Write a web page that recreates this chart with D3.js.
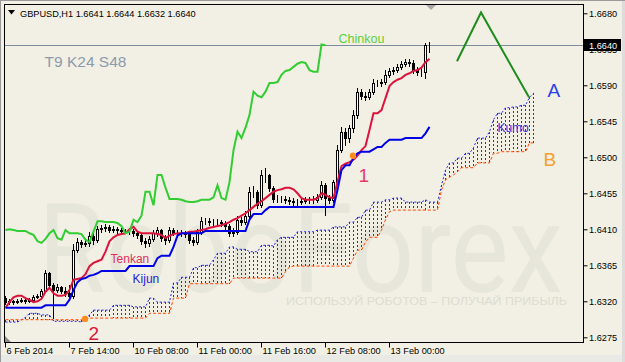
<!DOCTYPE html>
<html><head><meta charset="utf-8">
<script src="https://cdn.jsdelivr.net/npm/d3@7"></script>
<style>
html,body{margin:0;padding:0;background:#F2F0E4;}
svg{display:block;font-family:"Liberation Sans",Arial,sans-serif;}
</style></head><body>
<svg id="c" width="625" height="362"></svg>
<script>
// ---------- DATA ----------
const symbolTitle = "GBPUSD,H1  1.6641 1.6644 1.6632 1.6640";
const firstOpen = 1.6324;
const closes = [1.6319,1.6320,1.6319,1.6320,1.6322,1.6320,1.6322,1.6325,1.6327,1.6333,
 1.6355,1.6340,1.6334,1.6338,1.6333,1.6330,1.6327,1.6384,1.6394,1.6392,
 1.6393,1.6402,1.6397,1.6410,1.6412,1.6413,1.6409,1.6410,1.6409,1.6408,
 1.6408,1.6408,1.6405,1.6403,1.6395,1.6393,1.6398,1.6405,1.6409,1.6399,
 1.6397,1.6409,1.6405,1.6405,1.6405,1.6404,1.6397,1.6394,1.6407,1.6420,
 1.6420,1.6419,1.6419,1.6419,1.6418,1.6414,1.6405,1.6407,1.6422,1.6419,
 1.6427,1.6457,1.6457,1.6440,1.6478,1.6478,1.6462,1.6448,1.6448,1.6448,
 1.6447,1.6445,1.6444,1.6444,1.6445,1.6447,1.6447,1.6447,1.6450,1.6465,
 1.6449,1.6447,1.6469,1.6509,1.6532,1.6524,1.6537,1.6553,1.6582,1.6577,
 1.6575,1.6582,1.6593,1.6593,1.6594,1.6603,1.6608,1.6609,1.6613,1.6617,
 1.6619,1.6618,1.6609,1.6607,1.6607,1.6641,1.6640];
const highs = [1.6327,1.6323,1.6322,1.6323,1.6324,1.6323,1.6324,1.6328,1.6329,1.6335,
 1.6359,1.6357,1.6343,1.6342,1.6339,1.6338,1.6340,1.6392,1.6399,1.6397,
 1.6397,1.6407,1.6405,1.6414,1.6415,1.6417,1.6415,1.6414,1.6413,1.6412,
 1.6410,1.6412,1.6410,1.6408,1.6405,1.6399,1.6402,1.6409,1.6413,1.6410,
 1.6403,1.6413,1.6412,1.6409,1.6409,1.6408,1.6407,1.6400,1.6410,1.6425,
 1.6424,1.6424,1.6423,1.6423,1.6422,1.6420,1.6417,1.6412,1.6427,1.6425,
 1.6433,1.6463,1.6464,1.6459,1.6484,1.6487,1.6479,1.6464,1.6453,1.6452,
 1.6452,1.6450,1.6449,1.6448,1.6449,1.6450,1.6450,1.6452,1.6454,1.6470,
 1.6468,1.6453,1.6472,1.6515,1.6538,1.6537,1.6540,1.6559,1.6587,1.6585,
 1.6582,1.6585,1.6598,1.6597,1.6598,1.6609,1.6612,1.6613,1.6617,1.6620,
 1.6623,1.6623,1.6622,1.6613,1.6613,1.6643,1.6644];
const lows = [1.6317,1.6317,1.6317,1.6318,1.6319,1.6318,1.6319,1.6320,1.6324,1.6324,
 1.6332,1.6337,1.6299,1.6332,1.6330,1.6327,1.6323,1.6324,1.6382,1.6388,
 1.6389,1.6389,1.6392,1.6394,1.6407,1.6408,1.6407,1.6407,1.6405,1.6404,
 1.6405,1.6404,1.6402,1.6399,1.6392,1.6388,1.6389,1.6395,1.6402,1.6395,
 1.6392,1.6394,1.6403,1.6402,1.6402,1.6400,1.6393,1.6390,1.6392,1.6404,
 1.6417,1.6415,1.6415,1.6415,1.6414,1.6410,1.6402,1.6402,1.6404,1.6415,
 1.6417,1.6424,1.6450,1.6437,1.6438,1.6469,1.6458,1.6444,1.6444,1.6444,
 1.6443,1.6442,1.6440,1.6440,1.6442,1.6443,1.6443,1.6443,1.6444,1.6448,
 1.6428,1.6443,1.6444,1.6467,1.6507,1.6515,1.6519,1.6532,1.6549,1.6573,
 1.6572,1.6573,1.6579,1.6589,1.6589,1.6592,1.6600,1.6604,1.6607,1.6610,
 1.6614,1.6614,1.6605,1.6603,1.6602,1.6599,1.6632];
const tenkan = [1.6312,1.6319,1.6325,1.6327,1.6327,1.6324,1.6322,1.6319,1.6320,1.6323,
 1.6332,1.6337,1.6330,1.6327,1.6327,1.6328,1.6334,1.6347,1.6348,1.6349,
 1.6354,1.6364,1.6368,1.6370,1.6372,1.6382,1.6395,1.6400,1.6403,1.6404,
 1.6405,1.6410,1.6413,1.6407,1.6405,1.6405,1.6405,1.6405,1.6404,1.6403,
 1.6399,1.6402,1.6404,1.6405,1.6405,1.6405,1.6407,1.6407,1.6408,1.6409,
 1.6410,1.6412,1.6413,1.6414,1.6415,1.6417,1.6419,1.6422,1.6424,1.6427,
 1.6430,1.6434,1.6438,1.6442,1.6445,1.6449,1.6453,1.6457,1.6459,1.6460,
 1.6462,1.6462,1.6460,1.6455,1.6449,1.6447,1.6447,1.6447,1.6449,1.6455,
 1.6453,1.6450,1.6449,1.6469,1.6489,1.6492,1.6494,1.6497,1.6502,1.6509,
 1.6514,1.6534,1.6555,1.6555,1.6559,1.6574,1.6589,1.6594,1.6597,1.6599,
 1.6603,1.6605,1.6608,1.6609,1.6612,1.6619,1.6623];
const kijun = [1.6312,1.6312,1.6312,1.6312,1.6312,1.6312,1.6312,1.6312,1.6312,1.6312,
 1.6315,1.6315,1.6315,1.6315,1.6315,1.6315,1.6322,1.6334,1.6344,1.6348,
 1.6349,1.6352,1.6353,1.6355,1.6358,1.6358,1.6358,1.6358,1.6358,1.6358,
 1.6358,1.6364,1.6364,1.6364,1.6364,1.6364,1.6364,1.6364,1.6374,1.6377,
 1.6377,1.6377,1.6388,1.6402,1.6405,1.6405,1.6405,1.6405,1.6405,1.6405,
 1.6408,1.6408,1.6408,1.6408,1.6408,1.6408,1.6408,1.6408,1.6408,1.6408,
 1.6408,1.6422,1.6429,1.6429,1.6429,1.6434,1.6438,1.6438,1.6438,1.6438,
 1.6438,1.6438,1.6438,1.6438,1.6438,1.6438,1.6438,1.6438,1.6438,1.6438,
 1.6438,1.6438,1.6438,1.6459,1.6484,1.6490,1.6490,1.6499,1.6505,1.6507,
 1.6507,1.6507,1.6510,1.6513,1.6513,1.6518,1.6522,1.6522,1.6522,1.6522,
 1.6524,1.6524,1.6524,1.6524,1.6524,1.6530,1.6538];
const spanA = [1.6294,1.6294,1.6294,1.6294,1.6297,1.6300,1.6305,1.6305,1.6305,1.6303,
 1.6303,1.6303,1.6295,1.6295,1.6295,1.6295,1.6295,1.6295,1.6295,1.6294,
 1.6299,1.6303,1.6309,1.6309,1.6309,1.6309,1.6309,1.6315,1.6315,1.6315,
 1.6315,1.6315,1.6313,1.6313,1.6313,1.6313,1.6324,1.6324,1.6319,1.6319,
 1.6319,1.6319,1.6343,1.6343,1.6350,1.6350,1.6350,1.6362,1.6362,1.6365,
 1.6365,1.6365,1.6372,1.6380,1.6380,1.6380,1.6388,1.6388,1.6385,1.6385,
 1.6385,1.6382,1.6382,1.6382,1.6390,1.6390,1.6390,1.6389,1.6397,1.6400,
 1.6400,1.6400,1.6400,1.6407,1.6407,1.6407,1.6407,1.6407,1.6409,1.6409,
 1.6409,1.6409,1.6413,1.6413,1.6413,1.6413,1.6419,1.6419,1.6425,1.6425,
 1.6434,1.6434,1.6444,1.6444,1.6444,1.6447,1.6447,1.6449,1.6449,1.6449,
 1.6444,1.6444,1.6444,1.6444,1.6444,1.6447,1.6444,1.6444,1.6444,1.6465,
 1.6484,1.6493,1.6493,1.6499,1.6499,1.6505,1.6505,1.6512,1.6524,1.6524,
 1.6524,1.6532,1.6547,1.6555,1.6555,1.6562,1.6562,1.6563,1.6563,1.6565,
 1.6565,1.6575,1.6580];
const spanB = [1.6297,1.6297,1.6297,1.6297,1.6297,1.6297,1.6297,1.6297,1.6297,1.6297,
 1.6297,1.6297,1.6297,1.6297,1.6297,1.6297,1.6297,1.6297,1.6297,1.6297,
 1.6297,1.6299,1.6299,1.6299,1.6299,1.6299,1.6299,1.6299,1.6299,1.6299,
 1.6299,1.6299,1.6299,1.6299,1.6299,1.6299,1.6305,1.6305,1.6305,1.6305,
 1.6305,1.6305,1.6324,1.6324,1.6324,1.6324,1.6342,1.6342,1.6342,1.6342,
 1.6342,1.6342,1.6342,1.6342,1.6342,1.6342,1.6342,1.6349,1.6349,1.6349,
 1.6349,1.6349,1.6349,1.6349,1.6349,1.6349,1.6349,1.6349,1.6349,1.6349,
 1.6357,1.6363,1.6364,1.6364,1.6364,1.6364,1.6364,1.6364,1.6364,1.6364,
 1.6364,1.6364,1.6364,1.6364,1.6364,1.6364,1.6364,1.6374,1.6384,1.6384,
 1.6394,1.6400,1.6400,1.6400,1.6409,1.6422,1.6432,1.6434,1.6434,1.6434,
 1.6434,1.6434,1.6434,1.6434,1.6434,1.6434,1.6434,1.6434,1.6434,1.6459,
 1.6472,1.6475,1.6478,1.6482,1.6487,1.6487,1.6487,1.6487,1.6493,1.6493,
 1.6493,1.6493,1.6505,1.6505,1.6507,1.6507,1.6507,1.6507,1.6507,1.6507,
 1.6507,1.6518,1.6518];
const chinkouShift = 26;
const priceTicks = [1.6680,1.6635,1.6590,1.6545,1.6500,1.6455,1.6410,1.6365,1.6320,1.6275];
const currentPrice = 1.6640;
const timeLabelBars = [0,16,32,48,64,80,96];
const timeLabels = ["6 Feb 2014","7 Feb 14:00","10 Feb 08:00","11 Feb 00:00","11 Feb 16:00","12 Feb 08:00","13 Feb 00:00"];
const forecastBars = [113,119,131];
const forecastPrices = [1.6620,1.6681,1.6575];
const markerBars = [87,20];
const markerPrices = [1.6502,1.6298];
const notes = [
  {t:"Chinkou", b:83.4, p:1.66429, c:"#5ccf3c", s:12.5},
  {t:"Tenkan", b:26.4, p:1.63679, c:"#e0305a", s:12},
  {t:"Kijun", b:31.9, p:1.63429, c:"#2222d8", s:12},
  {t:"Kumo", b:123.1, p:1.65316, c:"#3a2ed8", s:12},
  {t:"A", b:135.6, p:1.65754, c:"#2a40e4", s:19},
  {t:"B", b:134.6, p:1.64891, c:"#f5a030", s:19},
  {t:"1", b:88.4, p:1.64691, c:"#e83a6a", s:19},
  {t:"2", b:20.9, p:1.62716, c:"#dc143c", s:19},
  {t:"T9 K24 S48", b:9.9, p:1.66129, c:"#8b9aae", s:15.5}
];

// ---------- CHART ----------
const svg = d3.select("#c");
const L=4, T=4, R=583, B=342;
const x = d3.scaleLinear().domain([0,144]).range([5,581]);
const y = d3.scaleLinear().domain([1.6275,1.6680]).range([337.3,13.3]);
const bg="#F2F0E4";

svg.append("rect").attr("width",625).attr("height",362).attr("fill",bg);
svg.append("rect").attr("x",0).attr("y",355).attr("width",625).attr("height",7).attr("fill","#E9E9E6");
svg.append("rect").attr("x",622).attr("y",0).attr("width",3).attr("height",362).attr("fill","#DCDCDA");
svg.append("line").attr("x1",0).attr("x2",625).attr("y1",0.5).attr("y2",0.5).attr("stroke","#9a9a9a");
svg.append("line").attr("x1",0.5).attr("x2",0.5).attr("y1",0).attr("y2",362).attr("stroke","#9a9a9a");

svg.append("clipPath").attr("id","clip").append("rect")
  .attr("x",L+1).attr("y",T+1).attr("width",R-L-1).attr("height",B-T-1);
const g = svg.append("g").attr("clip-path","url(#clip)");

// watermark
g.append("text").attr("x",38).attr("y",292).attr("font-family","Roboto, 'Liberation Sans', sans-serif")
  .attr("font-size",125).attr("textLength",525).attr("lengthAdjust","spacingAndGlyphs")
  .attr("fill","#E7E6DA").text("RoboForex");
g.append("text").attr("x",286).attr("y",305).attr("font-size",11.5)
  .attr("textLength",281).attr("lengthAdjust","spacingAndGlyphs")
  .attr("fill","#DDDCD0").text("ИСПОЛЬЗУЙ РОБОТОВ – ПОЛУЧАЙ ПРИБЫЛЬ");

// current price line
g.append("line").attr("x1",L).attr("x2",R).attr("y1",Math.round(y(currentPrice))+0.5).attr("y2",Math.round(y(currentPrice))+0.5)
  .attr("stroke","#7F8C9C").attr("stroke-width",1);

// kumo hatching
const cloudIdx = d3.range(spanA.length);
g.append("g").selectAll("line").data(cloudIdx).join("line")
  .attr("x1",i=>x(i)+0.5).attr("x2",i=>x(i)+0.5)
  .attr("y1",i=>Math.round(y(spanA[i]))).attr("y2",i=>Math.round(y(spanB[i])))
  .attr("stroke","#2A2AE0").attr("stroke-width",1).attr("stroke-dasharray","2,2");
const lineGen = arr => d3.line().x((d,i)=>x(i)+0.5).y(d=>y(d)).curve(d3.curveLinear)(arr);
g.append("path").attr("d",lineGen(spanA)).attr("fill","none").attr("stroke","#2A2AE0")
  .attr("stroke-width",1).attr("stroke-dasharray","2,2");
g.append("path").attr("d",lineGen(spanB)).attr("fill","none").attr("stroke","#FF4500")
  .attr("stroke-width",1).attr("stroke-dasharray","3,2");

// candles
const opens = closes.map((c,i)=> i===0 ? firstOpen : closes[i-1]);
const cg = g.append("g");
closes.forEach((c,i)=>{
  const X = x(i);
  const o = opens[i];
  cg.append("line").attr("x1",X+0.5).attr("x2",X+0.5)
    .attr("y1",Math.round(y(highs[i]))).attr("y2",Math.round(y(lows[i]))+1)
    .attr("stroke","#000").attr("stroke-width",1);
  const top = Math.round(y(Math.max(o,c))), bot = Math.round(y(Math.min(o,c)));
  const h = Math.max(bot-top,0);
  cg.append("rect").attr("x",X-0.5).attr("y",top+0.5).attr("width",2).attr("height",h)
    .attr("fill", c>=o ? "#FFFFFF" : "#000000").attr("stroke","#000").attr("stroke-width",1);
});

// ichimoku lines
g.append("path").attr("d",lineGen(tenkan)).attr("fill","none").attr("stroke","#DC143C").attr("stroke-width",2);
g.append("path").attr("d",lineGen(kijun)).attr("fill","none").attr("stroke","#0000E6").attr("stroke-width",2);
const chinkou = closes.slice(chinkouShift);
g.append("path").attr("d",lineGen(chinkou)).attr("fill","none").attr("stroke","#32CD32").attr("stroke-width",2);

// forecast sketch
g.append("path").attr("d",d3.line().x((d,i)=>x(forecastBars[i])).y(d=>y(d))(forecastPrices))
  .attr("fill","none").attr("stroke","#1E8C1E").attr("stroke-width",2);

// markers
markerBars.forEach((b,i)=>{
  g.append("circle").attr("cx",x(b)).attr("cy",y(markerPrices[i])).attr("r",3.2).attr("fill","#FF8C1A");
});

// annotations
notes.forEach(n=>{
  g.append("text").attr("x",x(n.b)).attr("y",y(n.p)).attr("font-size",n.s).attr("fill",n.c).text(n.t);
});

// frame
svg.append("rect").attr("x",L+0.5).attr("y",T+0.5).attr("width",R-L).attr("height",B-T)
  .attr("fill","none").attr("stroke","#000").attr("stroke-width",1);

// right axis
const ya = svg.append("g").attr("transform",`translate(${R+0.5},0)`)
  .call(d3.axisRight(y).tickValues(priceTicks).tickSize(4).tickPadding(1.5).tickFormat(d3.format(".4f")));
ya.select(".domain").remove();
ya.selectAll("text").attr("font-family","'Liberation Sans',Arial,sans-serif").attr("font-size",9.2).attr("fill","#000");
ya.selectAll("line").attr("stroke","#000");

// bottom axis
const xa = svg.append("g").attr("transform",`translate(0,${B+0.5})`)
  .call(d3.axisBottom(x).tickValues(timeLabelBars).tickSize(5).tickFormat((d,k)=>timeLabels[k]));
xa.select(".domain").remove();
xa.selectAll(".tick").attr("transform",d=>`translate(${x(d)+0.5},0)`);
xa.selectAll("text").attr("text-anchor","start").attr("x",1).attr("y",4.5)
  .attr("font-family","'Liberation Sans',Arial,sans-serif").attr("font-size",9.2).attr("fill","#000");
xa.selectAll("line").attr("stroke","#000");

// current price label
const cp = Math.round(y(currentPrice));
svg.append("rect").attr("x",584).attr("y",cp-6).attr("width",37).attr("height",12).attr("fill","#000");
svg.append("text").attr("x",589).attr("y",cp+3.5).attr("font-size",9.2).attr("fill","#fff").text(d3.format(".4f")(currentPrice));

// title
svg.append("path").attr("d","M8,10 L15,10 L11.5,14.5 Z").attr("fill","#000");
svg.append("text").attr("x",20).attr("y",16.5).attr("font-size",9.2).attr("fill","#000").text(symbolTitle);

// chart-shift marker & scale marker
svg.append("path").attr("d",`M${x(106.5)-5},5 L${x(106.5)+5},5 L${x(106.5)},10 Z`).attr("fill","#A8A8A8");
svg.append("path").attr("d","M5,342 L5,336 L11,342 Z").attr("fill","#8C8C8C");
</script>
</body></html>
